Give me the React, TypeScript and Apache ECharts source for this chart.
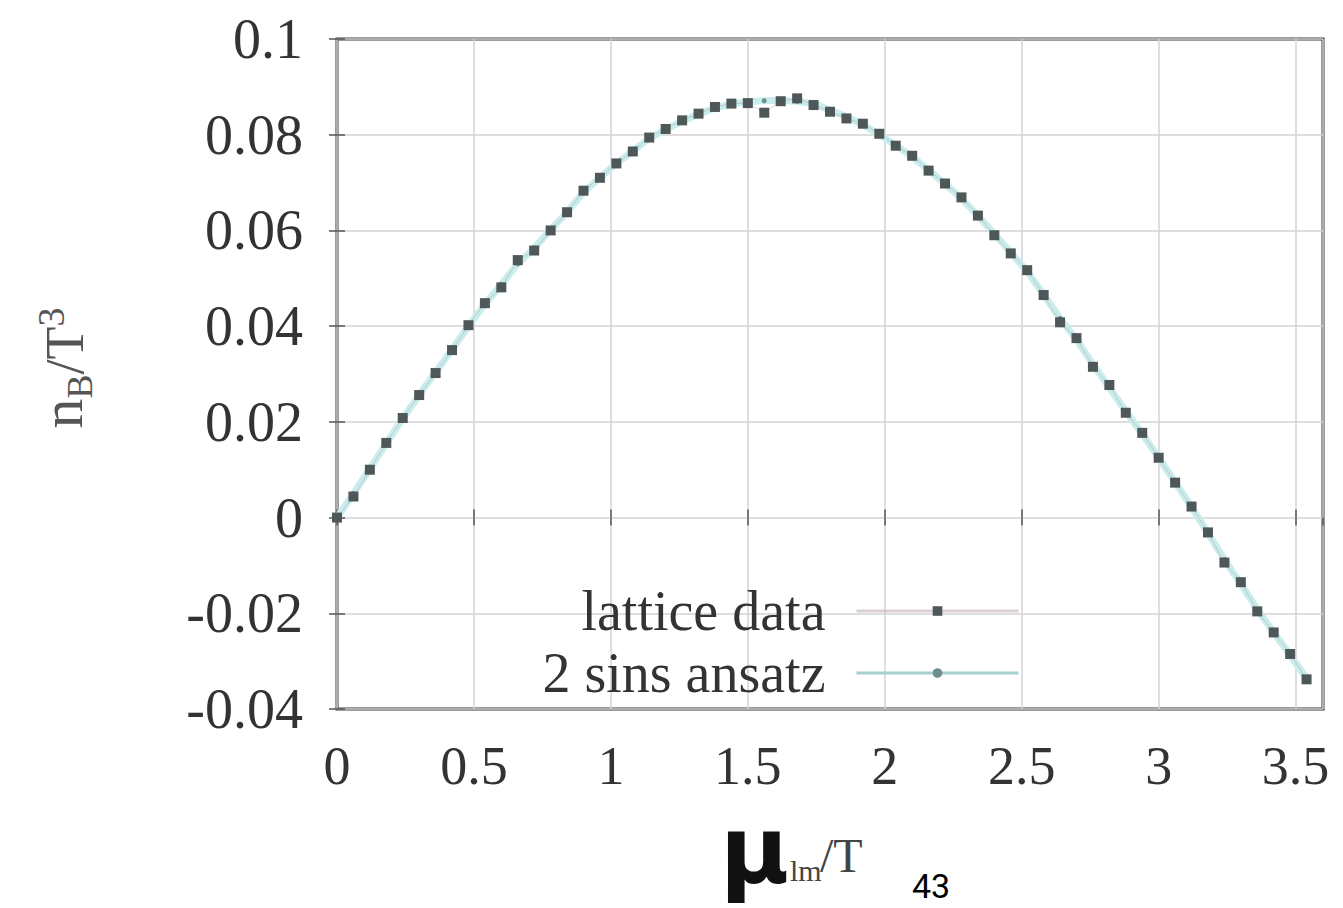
import React, { useEffect, useRef } from "react";
import * as echarts from "echarts";

const muValues = [
  0, 0.06, 0.12, 0.18, 0.24, 0.3, 0.36, 0.42, 0.48, 0.54,
  0.6, 0.66, 0.72, 0.78, 0.84, 0.9, 0.96, 1.02, 1.08, 1.14,
  1.2, 1.26, 1.32, 1.38, 1.44, 1.5, 1.56, 1.62, 1.68, 1.74,
  1.8, 1.86, 1.92, 1.98, 2.04, 2.1, 2.16, 2.22, 2.28, 2.34,
  2.4, 2.46, 2.52, 2.58, 2.64, 2.7, 2.76, 2.82, 2.88, 2.94,
  3.0, 3.06, 3.12, 3.18, 3.24, 3.3, 3.36, 3.42, 3.48, 3.54,
];

const latticeData = [
  0, 0.0044, 0.01, 0.0156, 0.0208, 0.0256, 0.0302, 0.035, 0.0402, 0.0448,
  0.0481, 0.0538, 0.0558, 0.06, 0.0638, 0.0683, 0.071, 0.074, 0.0765, 0.0794,
  0.0812, 0.083, 0.0844, 0.0858, 0.0865, 0.0866, 0.0846, 0.087, 0.0876, 0.0862,
  0.0848, 0.0834, 0.0823, 0.0802, 0.0777, 0.0756, 0.0725, 0.0698, 0.0669, 0.0631,
  0.059, 0.0552, 0.0517, 0.0465, 0.0408, 0.0375, 0.0315, 0.0277, 0.0219, 0.0177,
  0.0125, 0.0073, 0.0023, -0.0031, -0.0094, -0.0135, -0.0196, -0.024, -0.0285, -0.0338,
];

const ansatzData = [
  0, 0.005, 0.0102, 0.0155, 0.0207, 0.0256, 0.0304, 0.0351, 0.04, 0.0446,
  0.0487, 0.053, 0.0563, 0.0601, 0.0638, 0.068, 0.071, 0.074, 0.0766, 0.0792,
  0.0811, 0.0828, 0.0843, 0.0856, 0.0864, 0.0869, 0.0871, 0.0872, 0.087, 0.0865,
  0.0851, 0.0838, 0.0821, 0.08, 0.0778, 0.0754, 0.0726, 0.0697, 0.0667, 0.0631,
  0.0593, 0.0554, 0.0514, 0.0466, 0.0416, 0.0372, 0.032, 0.0272, 0.0222, 0.0175,
  0.0125, 0.0074, 0.0022, -0.0032, -0.0088, -0.0138, -0.0192, -0.024, -0.0287, -0.0336,
];

const seriesNames = ["lattice data", "2 sins ansatz"];
const xRange = [0, 3.6];
const yRange = [-0.04, 0.1];

const SERIF = "Liberation Serif";
const TXT = "#333";

export default function App() {
  const ref = useRef<HTMLDivElement>(null);
  useEffect(() => {
    if (!ref.current) return;
    const chart = echarts.init(ref.current, null, { renderer: "svg" });
    const lattice = muValues.map((x, i) => [x, latticeData[i]]);
    const ansatz = muValues.map((x, i) => [x, ansatzData[i]]);
    const xCommon = {
      type: "value" as const,
      min: xRange[0],
      max: xRange[1],
      interval: 0.5,
    };
    const yCommon = {
      type: "value" as const,
      min: yRange[0],
      max: yRange[1],
      interval: 0.02,
    };
    const tick = { show: true, inside: true, length: 8, lineStyle: { color: "#555", width: 1.5 } };
    chart.setOption({
      animation: false,
      backgroundColor: "#fff",
      grid: {
        left: 337,
        top: 39,
        width: 986,
        height: 670,
        containLabel: false,
        outerBoundsMode: "none",
        show: true,
        borderColor: "#3a3a3a",
        borderWidth: 3,
        backgroundColor: "transparent",
      },
      xAxis: [
        {
          ...xCommon,
          position: "bottom",
          axisLine: { show: false },
          axisTick: tick,
          axisLabel: {
            show: true,
            showMaxLabel: false,
            margin: 30,
            fontFamily: SERIF,
            fontSize: 54,
            color: TXT,
          },
          splitLine: { show: true, lineStyle: { color: "#d3d3d3", width: 1.5 } },
        },
        {
          ...xCommon,
          position: "top",
          axisLine: { show: false },
          axisTick: tick,
          axisLabel: { show: false },
          splitLine: { show: false },
        },
      ],
      yAxis: [
        {
          ...yCommon,
          position: "left",
          axisLine: { show: false },
          axisTick: tick,
          axisLabel: {
            margin: 34,
            fontFamily: SERIF,
            fontSize: 56,
            color: TXT,
            formatter: (v: number) => String(+v.toFixed(2)),
          },
          splitLine: { show: true, lineStyle: { color: "#d3d3d3", width: 1.5 } },
        },
        {
          ...yCommon,
          position: "right",
          axisLine: { show: false },
          axisTick: tick,
          axisLabel: { show: false },
          splitLine: { show: false },
        },
      ],
      legend: [
        {
          data: [seriesNames[0]],
          align: "right",
          right: 318,
          top: 578,
          itemWidth: 162,
          itemHeight: 12,
          textStyle: { fontFamily: SERIF, fontSize: 56, color: TXT, padding: [0, 26, 0, 0] },
          lineStyle: { color: "#b9a1ab", width: 3 },
          selectedMode: false,
        },
        {
          data: [seriesNames[1]],
          align: "right",
          right: 318,
          top: 640,
          itemWidth: 162,
          itemHeight: 12,
          textStyle: { fontFamily: SERIF, fontSize: 56, color: TXT, padding: [0, 26, 0, 0] },
          lineStyle: { color: "#a5cfcf", width: 3 },
          selectedMode: false,
        },
      ],
      series: [
        {
          name: seriesNames[1],
          type: "line",
          data: ansatz,
          z: 2,
          symbol: "circle",
          symbolSize: 5,
          itemStyle: { color: "#6f8f8f" },
          lineStyle: { color: "#c9ecec", width: 7 },
        },
        {
          name: seriesNames[0],
          type: "line",
          data: lattice,
          z: 3,
          symbol: "rect",
          symbolSize: 10,
          itemStyle: { color: "#4f5858" },
          lineStyle: { color: "#b9a1ab", width: 1, opacity: 0.5 },
        },
      ],
      graphic: [
        {
          type: "text",
          x: 62,
          y: 368,
          rotation: Math.PI / 2,
          style: {
            text: "{n|n}{b|B}{s|/T}{p|3}",
            align: "center",
            verticalAlign: "middle",
            fill: "#555",
            rich: {
              n: { fontFamily: SERIF, fontSize: 60, fill: "#555", verticalAlign: "bottom" },
              b: { fontFamily: SERIF, fontSize: 36, fill: "#555", verticalAlign: "bottom", padding: [0, 0, -6, 0] },
              s: { fontFamily: SERIF, fontSize: 54, fill: "#555", verticalAlign: "bottom" },
              p: { fontFamily: SERIF, fontSize: 38, fill: "#555", verticalAlign: "top" },
            },
          },
        },
        {
          type: "text",
          x: 720,
          y: 850,
          style: {
            text: "μ",
            fontFamily: "DejaVu Sans",
            fontWeight: "bold",
            fontSize: 94,
            fill: "#111",
            align: "left",
            verticalAlign: "middle",
          },
        },
        {
          type: "text",
          x: 790,
          y: 870,
          style: {
            text: "lm",
            fontFamily: SERIF,
            fontSize: 30,
            fill: "#444",
            align: "left",
            verticalAlign: "middle",
          },
        },
        {
          type: "text",
          x: 820,
          y: 855,
          style: {
            text: "/T",
            fontFamily: SERIF,
            fontSize: 48,
            fill: "#444",
            align: "left",
            verticalAlign: "middle",
          },
        },
        {
          type: "text",
          x: 912,
          y: 886,
          style: {
            text: "43",
            fontFamily: "Roboto",
            fontSize: 34,
            fill: "#000",
            align: "left",
            verticalAlign: "middle",
          },
        },
      ],
    });
    return () => chart.dispose();
  }, []);
  return (
    <div
      ref={ref}
      style={{ position: "fixed", left: 0, top: 0, width: 1343, height: 908, background: "#fff" }}
    />
  );
}
